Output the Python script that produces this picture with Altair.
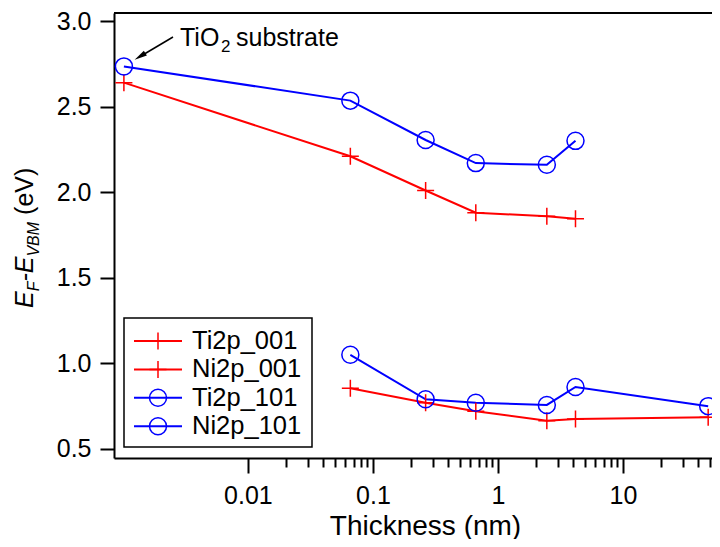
import altair as alt
import pandas as pd

# ---------------- data ----------------
thick_ti = [0.00102, 0.066, 0.264, 0.665, 2.46, 4.17]
ti2p_001 = [2.64, 2.21, 2.01, 1.88, 1.86, 1.845]
ti2p_101 = [2.735, 2.535, 2.305, 2.17, 2.16, 2.30]

thick_ni = [0.066, 0.264, 0.665, 2.46, 4.17, 48]
ni2p_001 = [0.855, 0.77, 0.72, 0.665, 0.675, 0.685]
ni2p_101 = [1.05, 0.79, 0.77, 0.757, 0.862, 0.75]

series_names = ["Ti2p_001", "Ni2p_001", "Ti2p_101", "Ni2p_101"]
series_colors = ["#ff0000", "#ff0000", "#0000ff", "#0000ff"]

y_ticks = [0.5, 1.0, 1.5, 2.0, 2.5, 3.0]
major_x = [0.01, 0.1, 1, 10]
minor_x = [round(k * 10 ** e, 6) for e in range(-2, 2) for k in range(1, 10)
           if round(k * 10 ** e, 6) <= 50]

x_domain = [0.00085, 51.5]
y_domain = [0.447, 3.047]

FONT = "Liberation Sans"
PLUS = "M-1,0H1M0,-1V1"
W, H = 598, 445

rows = []
for name, xs, ys in [("Ti2p_001", thick_ti, ti2p_001),
                     ("Ni2p_001", thick_ni, ni2p_001),
                     ("Ti2p_101", thick_ti, ti2p_101),
                     ("Ni2p_101", thick_ni, ni2p_101)]:
    for i, (x, y) in enumerate(zip(xs, ys)):
        rows.append({"thickness": x, "value": y, "series": name, "order": i})
df = pd.DataFrame(rows)

color_scale = alt.Scale(domain=series_names, range=series_colors)
shape_scale = alt.Scale(domain=series_names, range=[PLUS, PLUS, "circle", "circle"])
size_scale = alt.Scale(domain=series_names, range=[289, 289, 225, 225])

major_list = "[" + ",".join(str(v) for v in major_x) + "]"
is_major = f"indexof({major_list}, datum.value) >= 0"

x_axis = alt.Axis(
    values=minor_x,
    labelExpr=f"{is_major} ? format(datum.value, '~g') : ''",
    tickSize={"condition": {"test": is_major, "value": 15}, "value": 9},
    tickWidth=2, tickColor="black", domainWidth=2, domainColor="black",
    labelFont=FONT, labelFontSize=25, labelColor="black", labelPadding=10,
    labelOverlap=False, labelFlush=False, grid=False,
    title="Thickness (nm)", titleFont=FONT, titleFontSize=28,
    titleFontWeight="normal", titleColor="black",
    titleX=311, titleY=76, titleAlign="center", titleBaseline="alphabetic",
)
y_axis = alt.Axis(
    values=y_ticks, format=".1f", tickSize=14, tickWidth=2, tickColor="black",
    domainWidth=2, domainColor="black", labelFont=FONT, labelFontSize=25,
    labelColor="black", labelPadding=9, grid=False, title=None,
)

base = alt.Chart(df).encode(
    x=alt.X("thickness:Q", scale=alt.Scale(type="log", domain=x_domain), axis=x_axis),
    y=alt.Y("value:Q", scale=alt.Scale(domain=y_domain, nice=False, zero=False), axis=y_axis),
    color=alt.Color("series:N", scale=color_scale, legend=None),
)
lines = base.mark_line(strokeWidth=2).encode(order="order:Q")
points = base.mark_point(filled=False, strokeWidth=1.5, opacity=1).encode(
    shape=alt.Shape("series:N", scale=shape_scale, legend=None),
    size=alt.Size("series:N", scale=size_scale, legend=None),
)

one = pd.DataFrame({"a": [0]})

# top spine
top_rule = alt.Chart(one).mark_rule(color="black", strokeWidth=2).encode(
    x=alt.value(0), x2=alt.value(W), y=alt.value(0))

# ---------------- legend (manual) ----------------
row_y0, row_step = 328, 28.4
leg_df = pd.DataFrame({"series": series_names,
                       "ly": [row_y0 + i * row_step for i in range(len(series_names))]})
leg_box = alt.Chart(one).mark_rect(fill="white", stroke="black", strokeWidth=1.5).encode(
    x=alt.value(10), x2=alt.value(198), y=alt.value(305), y2=alt.value(434))
leg_lines = alt.Chart(leg_df).mark_rule(strokeWidth=2).encode(
    x=alt.value(20), x2=alt.value(68), y=alt.Y("ly:Q", scale=None),
    color=alt.Color("series:N", scale=color_scale, legend=None))
leg_pts = alt.Chart(leg_df).mark_point(filled=False, strokeWidth=1.5, opacity=1).encode(
    x=alt.value(44), y=alt.Y("ly:Q", scale=None),
    color=alt.Color("series:N", scale=color_scale, legend=None),
    shape=alt.Shape("series:N", scale=shape_scale, legend=None),
    size=alt.Size("series:N", scale=size_scale, legend=None))
leg_text = alt.Chart(leg_df).mark_text(
    align="left", baseline="middle", font=FONT, fontSize=25.5, color="black").encode(
    x=alt.value(78), y=alt.Y("ly:Q", scale=None), text="series:N")

# ---------------- annotation ----------------
def txt(s, x, y, size, style="normal", angle=0, align="left", baseline="alphabetic"):
    kw = dict(text=s, font=FONT, fontSize=size, fontStyle=style, color="black",
              align=align, baseline=baseline)
    if angle:
        kw["angle"] = angle
    return alt.Chart(one).mark_text(**kw).encode(x=alt.value(x), y=alt.value(y))

ann = [
    txt("TiO", 66, 33, 25),
    txt("2", 107, 39, 17),
    txt("substrate", 122, 33, 25),
]
arrow_line = alt.Chart(one).mark_rule(color="black", strokeWidth=1.5).encode(
    x=alt.value(59), y=alt.value(24), x2=alt.value(27), y2=alt.value(43))
arrow_head = alt.Chart(one).mark_point(
    shape="M0,-1L0.45,1L-0.45,1Z", filled=True, color="black", opacity=1,
    size=160, angle=238).encode(x=alt.value(26), y=alt.value(43.5))

# ---------------- y title with subscripts ----------------
ytitle_parts = [("E", 25, "italic", 0, 0), ("F", 16, "italic", 6, 0),
                ("-", 25, "italic", 0, 0), ("E", 25, "italic", 0, 0),
                ("VBM", 16, "italic", 6, 0), ("(eV)", 25, "normal", 0, 7)]
widths = {"E": 0.667, "F": 0.611, "-": 0.333, "VBM": 2.167, "(eV)": 1.889}
ytitle = []
ypos = 295
base_x = -81
for s, size, style, shift, gap in ytitle_parts:
    ypos -= gap
    ytitle.append(txt(s, base_x + shift, ypos, size, style, angle=270))
    ypos -= widths[s] * size

chart = alt.layer(
    lines, points, top_rule, arrow_line, arrow_head, *ann,
    leg_box, leg_lines, leg_pts, leg_text, *ytitle,
).properties(
    width=W, height=H,
    autosize=alt.AutoSizeParams(type="none"),
    padding={"left": 106, "top": 5, "right": 0, "bottom": 81},
    background="white",
).configure_view(stroke=None)

chart.save("out.html", embed_options={"renderer": "svg", "actions": False})
